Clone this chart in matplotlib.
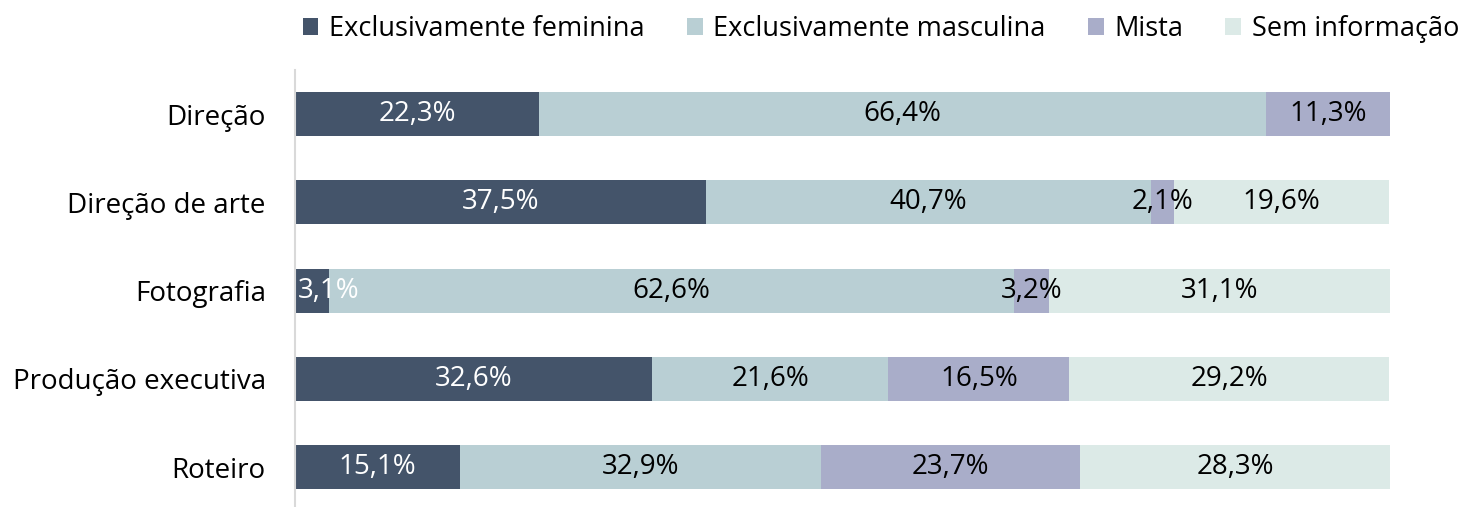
import matplotlib.pyplot as plt
import numpy as np

plt.rcParams['font.family'] = ['Open Sans', 'DejaVu Sans']

categorias = ['Direção', 'Direção de arte', 'Fotografia', 'Produção executiva', 'Roteiro']
series = ['Exclusivamente feminina', 'Exclusivamente masculina', 'Mista', 'Sem informação']
feminina = [22.3, 37.5, 3.1, 32.6, 15.1]
masculina = [66.4, 40.7, 62.6, 21.6, 32.9]
mista = [11.3, 2.1, 3.2, 16.5, 23.7]
sem_info = [0.0, 19.6, 31.1, 29.2, 28.3]

cores = ['#44546A', '#B9CFD4', '#A9ADC9', '#DCEAE7']
cores_texto = ['white', 'black', 'black', 'black']
fs = 20

fig = plt.figure(figsize=(14.73, 5.07), dpi=100)
ax = fig.add_axes([295 / 1473, 0, (1390 - 295) / 1473, (507 - 70) / 507])

pos = np.arange(len(categorias))
esquerda = np.zeros(len(categorias))
for nome, vals, cor, ctxt in zip(series, [feminina, masculina, mista, sem_info], cores, cores_texto):
    vals = np.array(vals)
    ax.barh(pos, vals, left=esquerda, height=0.5, color=cor, label=nome)
    for i, v in enumerate(vals):
        if v <= 0:
            continue
        txt = f'{v:.1f}%'.replace('.', ',')
        centro = esquerda[i] + v / 2
        if centro < 3:
            # keep the label inside the plot area
            ax.text(0.3, pos[i], txt, ha='left', va='center', color=ctxt, fontsize=fs)
        else:
            ax.text(centro, pos[i], txt, ha='center', va='center', color=ctxt, fontsize=fs)
    esquerda += vals

ax.set_xlim(0, 100)
ax.set_ylim(4.45, -0.5)
ax.set_yticks(pos)
ax.set_yticklabels(categorias, fontsize=fs)
ax.tick_params(axis='y', length=0, pad=21)
ax.set_xticks([])
for s in ['top', 'right', 'bottom']:
    ax.spines[s].set_visible(False)
ax.spines['left'].set_color('#D9D9D9')
ax.spines['left'].set_linewidth(1.5)

fig.legend(loc='center', bbox_to_anchor=(881 / 1473, 1 - 29 / 507), ncol=4, frameon=False,
           fontsize=19.5, handlelength=0.58, handleheight=0.58, handletextpad=0.4, columnspacing=1.55,
           borderpad=0, borderaxespad=0)

fig.savefig('out.png', dpi=100)
